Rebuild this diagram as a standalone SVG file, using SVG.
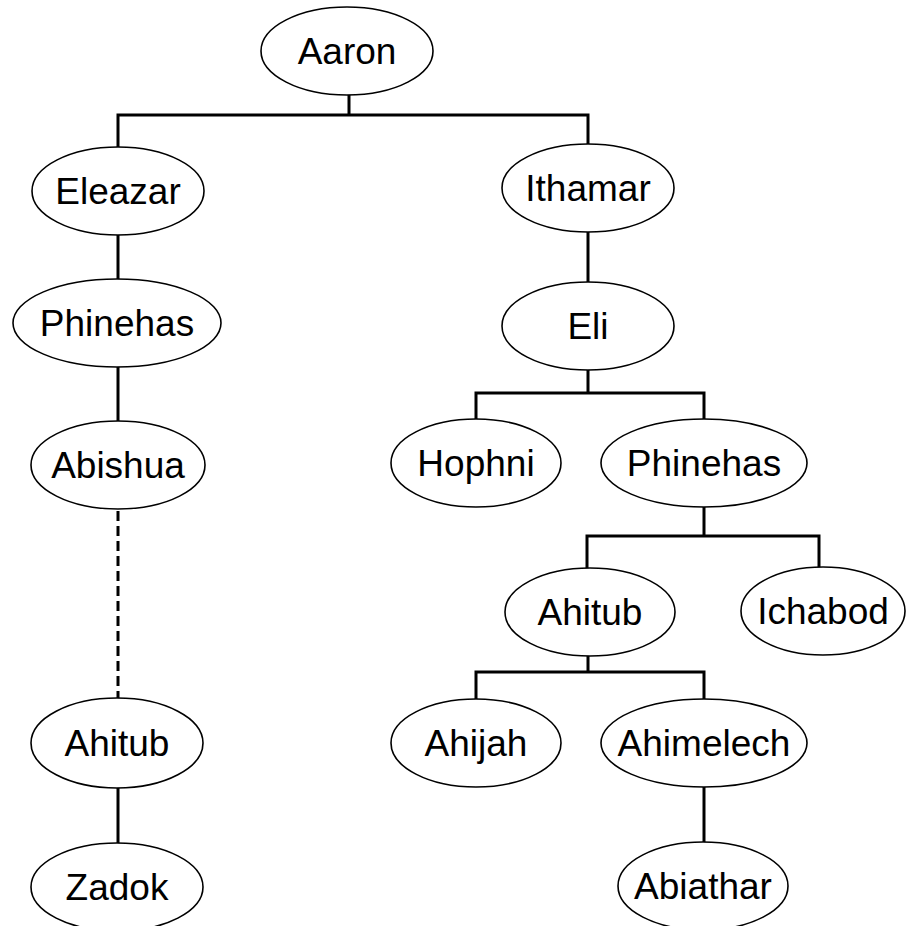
<svg xmlns="http://www.w3.org/2000/svg" width="908" height="926" viewBox="0 0 908 926">
<style>
.n ellipse{fill:#fff;stroke:#000;stroke-width:1.6}
.n text{font-family:"Liberation Sans",Arial,sans-serif;font-size:37px;text-anchor:middle;fill:#000}
.c path{fill:none;stroke:#000;stroke-width:3;stroke-linecap:square}
.c path.d{stroke-dasharray:10 5;stroke-linecap:butt}
</style>
<rect width="908" height="926" fill="#fff"/>
<g class="c" id="connectors">
<path d="M349 95V115M118 115H588M118 115V147M588 115V144"/>
<path d="M118 235V279"/>
<path d="M118 367V421"/>
<path class="d" d="M118 511V698"/>
<path d="M118 788V843"/>
<path d="M588 232V282"/>
<path d="M588 370V393M476 393H704M476 393V419M704 393V419"/>
<path d="M704 507V536M587 536H819M587 536V568M819 536V567"/>
<path d="M588 656V672M476 672H704M476 672V699M704 672V699"/>
<path d="M704 787V842"/>
</g>
<g class="n" id="aaron"><ellipse cx="347" cy="51" rx="86" ry="44"/><text x="347" y="64">Aaron</text></g>
<g class="n" id="eleazar"><ellipse cx="118" cy="191" rx="86" ry="44"/><text x="118" y="204">Eleazar</text></g>
<g class="n" id="phinehas1"><ellipse cx="117" cy="323" rx="104" ry="44"/><text x="117" y="336">Phinehas</text></g>
<g class="n" id="abishua"><ellipse cx="118" cy="465" rx="87" ry="44"/><text x="118" y="478">Abishua</text></g>
<g class="n" id="ahitub1"><ellipse cx="117" cy="743" rx="86" ry="45"/><text x="117" y="756">Ahitub</text></g>
<g class="n" id="zadok"><ellipse cx="117" cy="887" rx="86" ry="44"/><text x="117" y="900">Zadok</text></g>
<g class="n" id="ithamar"><ellipse cx="588" cy="188" rx="86" ry="44"/><text x="588" y="201">Ithamar</text></g>
<g class="n" id="eli"><ellipse cx="588" cy="326" rx="86" ry="44"/><text x="588" y="339">Eli</text></g>
<g class="n" id="hophni"><ellipse cx="476" cy="463" rx="85" ry="44"/><text x="476" y="476">Hophni</text></g>
<g class="n" id="phinehas2"><ellipse cx="704" cy="463" rx="103" ry="44"/><text x="704" y="476">Phinehas</text></g>
<g class="n" id="ahitub2"><ellipse cx="590" cy="612" rx="85" ry="44"/><text x="590" y="625">Ahitub</text></g>
<g class="n" id="ichabod"><ellipse cx="823" cy="611" rx="82" ry="44"/><text x="823" y="624">Ichabod</text></g>
<g class="n" id="ahijah"><ellipse cx="476" cy="743" rx="85" ry="44"/><text x="476" y="756">Ahijah</text></g>
<g class="n" id="ahimelech"><ellipse cx="704" cy="743" rx="103" ry="44"/><text x="704" y="756">Ahimelech</text></g>
<g class="n" id="abiathar"><ellipse cx="703" cy="886" rx="85" ry="44"/><text x="703" y="899">Abiathar</text></g>
</svg>
